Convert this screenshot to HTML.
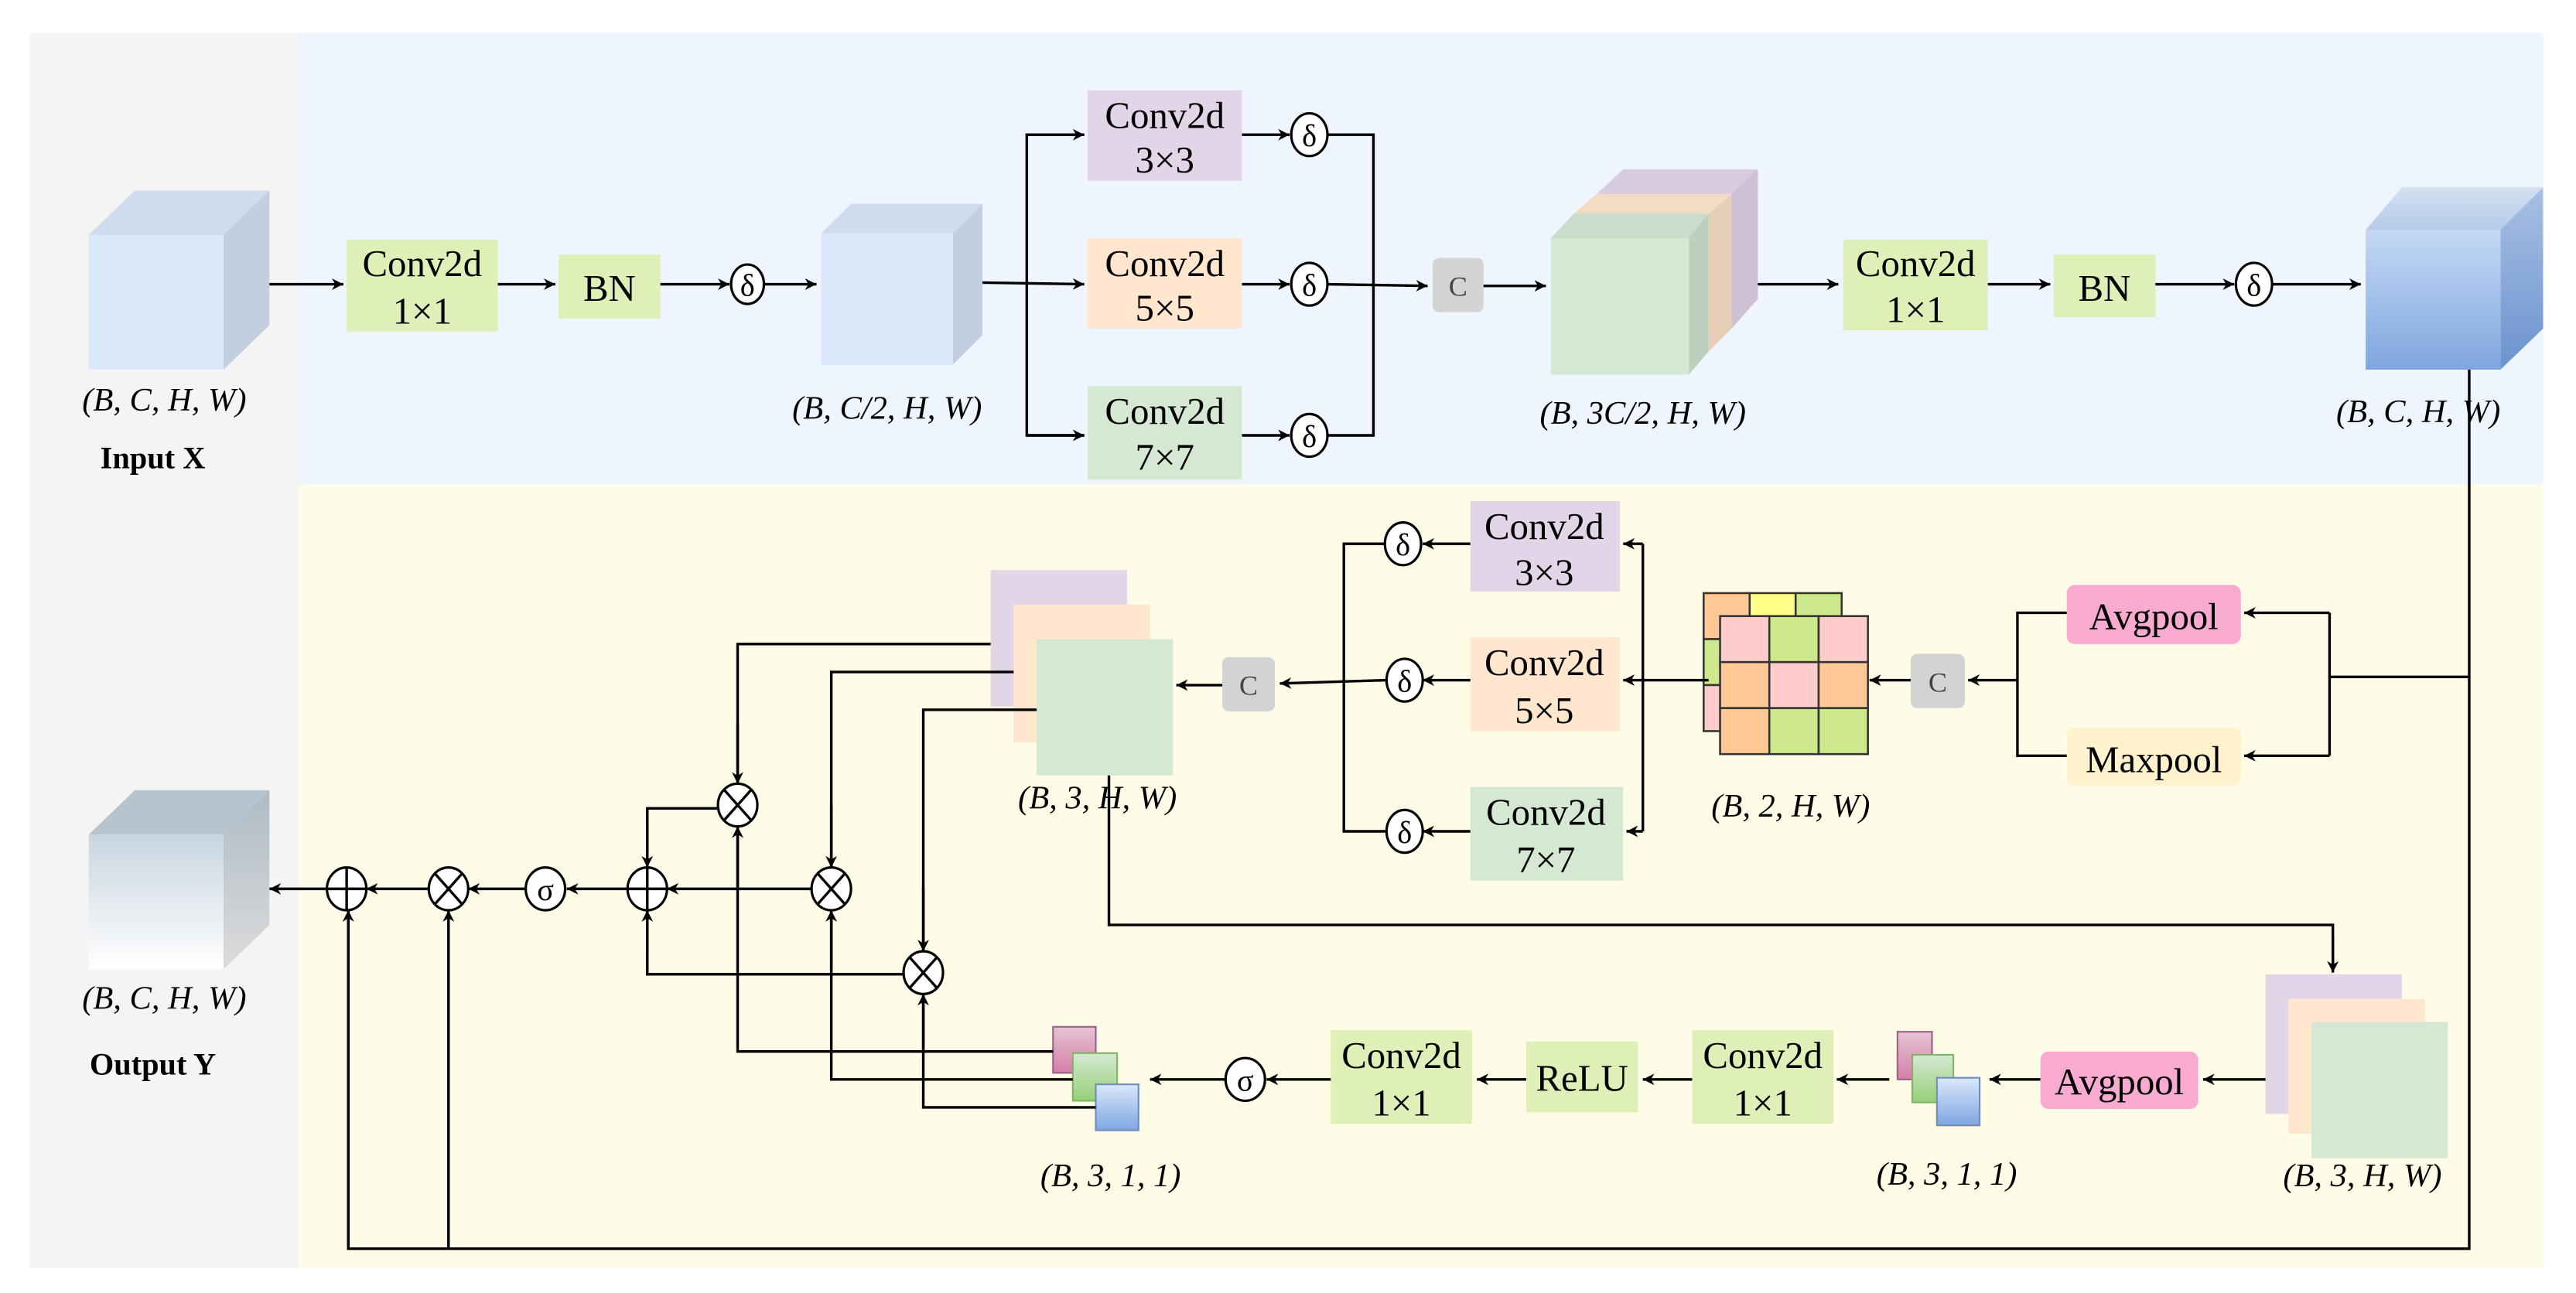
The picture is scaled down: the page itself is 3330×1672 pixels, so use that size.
<!DOCTYPE html>
<html><head><meta charset="utf-8"><style>
html,body{margin:0;padding:0;background:#fff;}
svg{display:block;}
svg text{font-family:"Liberation Serif","DejaVu Serif",serif;fill:#000;}
.b{font-size:23px;text-anchor:middle;}
.l{font-size:20px;text-anchor:middle;font-style:italic;}
.ln{stroke:#000;stroke-width:1.6;fill:none;}
</style></head><body>
<svg width="3330" height="1672" viewBox="0 0 1568 787" preserveAspectRatio="none" xmlns="http://www.w3.org/2000/svg" font-family="Liberation Serif, DejaVu Serif, serif">
<defs>
<marker id="a" viewBox="0 0 10 10" refX="10" refY="5" markerWidth="7" markerHeight="7" orient="auto-start-reverse" markerUnits="userSpaceOnUse"><path d="M0,0 L10,5 L0,10 L3,5 z" fill="#000"/></marker>
<linearGradient id="gb" x1="0" y1="0" x2="0" y2="1"><stop offset="0" stop-color="#c4d8f4"/><stop offset="1" stop-color="#7ea6de"/></linearGradient>
<linearGradient id="gbt" x1="0" y1="0" x2="0" y2="1"><stop offset="0" stop-color="#d3e0f0"/><stop offset="1" stop-color="#b5cbe9"/></linearGradient>
<linearGradient id="gbs" x1="0" y1="0" x2="0" y2="1"><stop offset="0" stop-color="#a8c0e4"/><stop offset="1" stop-color="#6b93cf"/></linearGradient>
<linearGradient id="gg" x1="0" y1="0" x2="0" y2="1"><stop offset="0" stop-color="#c8d5e0"/><stop offset="1" stop-color="#ffffff"/></linearGradient>
<linearGradient id="ggs" x1="0" y1="0" x2="0" y2="1"><stop offset="0" stop-color="#aebbc5"/><stop offset="1" stop-color="#dcdcdc"/></linearGradient>
<linearGradient id="sp" x1="0" y1="0" x2="0" y2="1"><stop offset="0" stop-color="#e6c4d4"/><stop offset="1" stop-color="#d47fa6"/></linearGradient>
<linearGradient id="sg" x1="0" y1="0" x2="0" y2="1"><stop offset="0" stop-color="#d5e8d4"/><stop offset="1" stop-color="#97d077"/></linearGradient>
<linearGradient id="sb" x1="0" y1="0" x2="0" y2="1"><stop offset="0" stop-color="#dae8fc"/><stop offset="1" stop-color="#7ea6e0"/></linearGradient>
</defs>
<rect width="1568" height="787" fill="#fff"/>
<rect x="18" y="20" width="164" height="752" fill="#f4f4f4"/>
<rect x="182" y="20" width="1366" height="275" fill="#eef5fe"/>
<rect x="182" y="295" width="1366" height="477" fill="#fefbe6"/>

<polygon points="54,143 82,116 164,116 136,143" fill="#cfdcee"/>
<polygon points="136,143 164,116 164,198 136,225" fill="#c3cfe1"/>
<rect x="54" y="143" width="82" height="82" fill="#dae8fa"/>
<text class="l" x="100" y="250">(B, C, H, W)</text>
<text x="93" y="285" style="font-size:19px;font-weight:bold;text-anchor:middle">Input X</text>

<line class="ln" x1="164" y1="173" x2="209" y2="173" marker-end="url(#a)"/>
<rect x="211" y="146" width="92" height="56" fill="#deefb7"/>
<text class="b" x="257" y="168">Conv2d</text><text class="b" x="257" y="197">1×1</text>
<line class="ln" x1="303" y1="173" x2="338" y2="173" marker-end="url(#a)"/>
<rect x="340" y="155" width="62" height="39" fill="#deefb7"/>
<text class="b" x="371" y="183">BN</text>
<line class="ln" x1="402" y1="173" x2="444" y2="173" marker-end="url(#a)"/>
<ellipse cx="455" cy="173" rx="10" ry="12" fill="#fff" stroke="#000" stroke-width="1.5"/><text class="b" x="455" y="180" style="font-size:19px">δ</text>
<line class="ln" x1="465" y1="173" x2="497" y2="173" marker-end="url(#a)"/>
<polygon points="500,142 518,124 598,124 580,142" fill="#cfdcee"/>
<polygon points="580,142 598,124 598,204 580,222" fill="#c3cfe1"/>
<rect x="500" y="142" width="80" height="80" fill="#dae8fa"/>
<text class="l" x="540" y="255">(B, C/2, H, W)</text>
<line class="ln" x1="598" y1="172" x2="660" y2="173" marker-end="url(#a)"/>
<polyline class="ln" points="660,82 625,82 625,265 660,265"/>
<line class="ln" x1="625" y1="82" x2="660" y2="82" marker-end="url(#a)"/>
<line class="ln" x1="625" y1="265" x2="660" y2="265" marker-end="url(#a)"/>
<rect x="662" y="55" width="94" height="55" fill="#e1d5e7"/><text class="b" x="709" y="78">Conv2d</text><text class="b" x="709" y="105">3×3</text>
<rect x="662" y="145" width="94" height="55" fill="#ffe6cc"/><text class="b" x="709" y="168">Conv2d</text><text class="b" x="709" y="195">5×5</text>
<rect x="662" y="235" width="94" height="57" fill="#d5e8d4"/><text class="b" x="709" y="258">Conv2d</text><text class="b" x="709" y="286">7×7</text>
<line class="ln" x1="756" y1="82" x2="785" y2="82" marker-end="url(#a)"/>
<line class="ln" x1="756" y1="173" x2="785" y2="173" marker-end="url(#a)"/>
<line class="ln" x1="756" y1="265" x2="785" y2="265" marker-end="url(#a)"/>
<ellipse cx="797" cy="82" rx="11" ry="13" fill="#fff" stroke="#000" stroke-width="1.5"/><text class="b" x="797" y="89" style="font-size:19px">δ</text>
<ellipse cx="797" cy="173" rx="11" ry="13" fill="#fff" stroke="#000" stroke-width="1.5"/><text class="b" x="797" y="180" style="font-size:19px">δ</text>
<ellipse cx="797" cy="265" rx="11" ry="13" fill="#fff" stroke="#000" stroke-width="1.5"/><text class="b" x="797" y="272" style="font-size:19px">δ</text>
<polyline class="ln" points="808,82 836,82 836,265 808,265"/>
<line class="ln" x1="808" y1="173" x2="869" y2="174" marker-end="url(#a)"/>
<rect x="872" y="157" width="31" height="33" rx="4" fill="#d3d3d3"/><text x="887.5" y="180" style="font-size:17px;text-anchor:middle;fill:#444">C</text>
<line class="ln" x1="903" y1="174" x2="941" y2="174" marker-end="url(#a)"/>
<polygon points="972,118 988,103 1070,103 1054,118" fill="#d8cbdd"/>
<polygon points="1054,118 1070,103 1070,182 1054,200" fill="#cdc0d3"/>
<polygon points="958,130 972,118 1054,118 1040,130" fill="#f2dcc4"/>
<polygon points="1040,130 1054,118 1054,200 1040,214" fill="#e6cfb6"/>
<polygon points="944,145 958,130 1040,130 1028,145" fill="#cadcca"/>
<polygon points="1028,145 1040,130 1040,214 1028,228" fill="#bdd0bd"/>
<rect x="944" y="145" width="84" height="83" fill="#d5e8d4"/>
<text class="l" x="1000" y="258">(B, 3C/2, H, W)</text>
<line class="ln" x1="1070" y1="173" x2="1119" y2="173" marker-end="url(#a)"/>
<rect x="1122" y="146" width="88" height="55" fill="#deefb7"/><text class="b" x="1166" y="168">Conv2d</text><text class="b" x="1166" y="196">1×1</text>
<line class="ln" x1="1210" y1="173" x2="1248" y2="173" marker-end="url(#a)"/>
<rect x="1250" y="155" width="62" height="38" fill="#deefb7"/><text class="b" x="1281" y="183">BN</text>
<line class="ln" x1="1312" y1="173" x2="1360" y2="173" marker-end="url(#a)"/>
<ellipse cx="1372" cy="173" rx="11" ry="13" fill="#fff" stroke="#000" stroke-width="1.5"/><text class="b" x="1372" y="180" style="font-size:19px">δ</text>
<line class="ln" x1="1383" y1="173" x2="1437" y2="173" marker-end="url(#a)"/>
<polygon points="1440,140 1462,114 1548,114 1522,140" fill="url(#gbt)"/>
<polygon points="1522,140 1548,114 1548,200 1522,225" fill="url(#gbs)"/>
<rect x="1440" y="140" width="82" height="85" fill="url(#gb)"/>
<text class="l" x="1472" y="257">(B, C, H, W)</text>

<polyline class="ln" points="1503,225 1503,760 212,760 212,554"/>
<line class="ln" x1="212" y1="760" x2="212" y2="554" marker-end="url(#a)"/>
<line class="ln" x1="273" y1="760" x2="273" y2="554" marker-end="url(#a)"/>
<line class="ln" x1="1503" y1="412" x2="1418" y2="412"/>
<polyline class="ln" points="1418,460 1418,373"/>
<line class="ln" x1="1418" y1="373" x2="1366" y2="373" marker-end="url(#a)"/>
<line class="ln" x1="1418" y1="460" x2="1366" y2="460" marker-end="url(#a)"/>
<rect x="1258" y="356" width="106" height="36" rx="5" fill="#f8aad0"/><text class="b" x="1311" y="383">Avgpool</text>
<rect x="1258" y="443" width="106" height="35" rx="5" fill="#fff2cc"/><text class="b" x="1311" y="470">Maxpool</text>
<polyline class="ln" points="1258,373 1228,373 1228,460 1258,460"/>
<line class="ln" x1="1228" y1="414" x2="1198" y2="414" marker-end="url(#a)"/>
<rect x="1163" y="398" width="33" height="33" rx="4" fill="#d3d3d3"/><text x="1179.5" y="421" style="font-size:17px;text-anchor:middle;fill:#444">C</text>
<line class="ln" x1="1163" y1="414" x2="1138" y2="414" marker-end="url(#a)"/>
<g stroke="#333" stroke-width="1.2">
<rect x="1037" y="361" width="28" height="28" fill="#ffc894"/><rect x="1065" y="361" width="28" height="28" fill="#ffff88"/><rect x="1093" y="361" width="28" height="28" fill="#cde98c"/>
<rect x="1037" y="389" width="28" height="28" fill="#cde98c"/><rect x="1037" y="417" width="28" height="28" fill="#ffcccc"/>
<rect x="1047" y="375" width="30" height="28" fill="#ffcccc"/><rect x="1077" y="375" width="30" height="28" fill="#cde98c"/><rect x="1107" y="375" width="30" height="28" fill="#ffcccc"/>
<rect x="1047" y="403" width="30" height="28" fill="#ffc894"/><rect x="1077" y="403" width="30" height="28" fill="#ffcccc"/><rect x="1107" y="403" width="30" height="28" fill="#ffc894"/>
<rect x="1047" y="431" width="30" height="28" fill="#ffc894"/><rect x="1077" y="431" width="30" height="28" fill="#cde98c"/><rect x="1107" y="431" width="30" height="28" fill="#cde98c"/>
</g>
<text class="l" x="1090" y="497">(B, 2, H, W)</text>
<line class="ln" x1="1040" y1="414" x2="1000" y2="414"/>
<polyline class="ln" points="1000,331 1000,506"/>
<line class="ln" x1="1000" y1="331" x2="988" y2="331" marker-end="url(#a)"/>
<line class="ln" x1="1000" y1="414" x2="988" y2="414" marker-end="url(#a)"/>
<line class="ln" x1="1000" y1="506" x2="990" y2="506" marker-end="url(#a)"/>
<rect x="895" y="305" width="91" height="55" fill="#e1d5e7"/><text class="b" x="940" y="328">Conv2d</text><text class="b" x="940" y="356">3×3</text>
<rect x="895" y="388" width="91" height="57" fill="#ffe6cc"/><text class="b" x="940" y="411">Conv2d</text><text class="b" x="940" y="440">5×5</text>
<rect x="895" y="479" width="93" height="57" fill="#d5e8d4"/><text class="b" x="941" y="502">Conv2d</text><text class="b" x="941" y="531">7×7</text>
<line class="ln" x1="895" y1="331" x2="866" y2="331" marker-end="url(#a)"/>
<line class="ln" x1="895" y1="414" x2="866" y2="414" marker-end="url(#a)"/>
<line class="ln" x1="895" y1="506" x2="866" y2="506" marker-end="url(#a)"/>
<ellipse cx="854" cy="331" rx="11" ry="13" fill="#fff" stroke="#000" stroke-width="1.5"/><text class="b" x="854" y="338" style="font-size:19px">δ</text>
<ellipse cx="855" cy="414" rx="11" ry="13" fill="#fff" stroke="#000" stroke-width="1.5"/><text class="b" x="855" y="421" style="font-size:19px">δ</text>
<ellipse cx="855" cy="506" rx="11" ry="13" fill="#fff" stroke="#000" stroke-width="1.5"/><text class="b" x="855" y="513" style="font-size:19px">δ</text>
<polyline class="ln" points="843,331 818,331 818,506 844,506"/>
<line class="ln" x1="844" y1="414" x2="779" y2="416" marker-end="url(#a)"/>
<rect x="744" y="400" width="32" height="33" rx="4" fill="#d3d3d3"/><text x="760" y="423" style="font-size:17px;text-anchor:middle;fill:#444">C</text>
<line class="ln" x1="744" y1="417" x2="716" y2="417" marker-end="url(#a)"/>
<rect x="603" y="347" width="83" height="83" fill="#e1d5e7"/>
<rect x="617" y="368" width="83" height="84" fill="#ffe6cc"/>
<rect x="631" y="389" width="83" height="83" fill="#d5e8d4"/>
<text class="l" x="668" y="492">(B, 3, H, W)</text>
<polyline class="ln" points="675,472 675,563 1420,563 1420,590"/>
<line class="ln" x1="1420" y1="570" x2="1420" y2="592" marker-end="url(#a)"/>
<rect x="1379" y="593" width="83" height="85" fill="#e1d5e7"/>
<rect x="1393" y="608" width="83" height="82" fill="#ffe6cc"/>
<rect x="1407" y="622" width="83" height="83" fill="#d5e8d4"/>
<text class="l" x="1438" y="722">(B, 3, H, W)</text>
<line class="ln" x1="1379" y1="657" x2="1341" y2="657" marker-end="url(#a)"/>
<rect x="1242" y="640" width="96" height="35" rx="5" fill="#f8aad0"/><text class="b" x="1290" y="666">Avgpool</text>
<line class="ln" x1="1242" y1="657" x2="1211" y2="657" marker-end="url(#a)"/>
<rect x="1155" y="628" width="21" height="29" fill="url(#sp)" stroke="#996185" stroke-width="1"/>
<rect x="1164" y="642" width="25" height="29" fill="url(#sg)" stroke="#82b366" stroke-width="1"/>
<rect x="1179" y="656" width="26" height="29" fill="url(#sb)" stroke="#6c8ebf" stroke-width="1"/>
<text class="l" x="1185" y="721">(B, 3, 1, 1)</text>
<line class="ln" x1="1150" y1="657" x2="1118" y2="657" marker-end="url(#a)"/>
<rect x="1030" y="627" width="86" height="57" fill="#deefb7"/><text class="b" x="1073" y="650">Conv2d</text><text class="b" x="1073" y="679">1×1</text>
<line class="ln" x1="1030" y1="657" x2="1000" y2="657" marker-end="url(#a)"/>
<rect x="929" y="634" width="68" height="43" fill="#deefb7"/><text class="b" x="963" y="664">ReLU</text>
<line class="ln" x1="929" y1="657" x2="899" y2="657" marker-end="url(#a)"/>
<rect x="810" y="627" width="86" height="57" fill="#deefb7"/><text class="b" x="853" y="650">Conv2d</text><text class="b" x="853" y="679">1×1</text>
<line class="ln" x1="810" y1="657" x2="771" y2="657" marker-end="url(#a)"/>
<ellipse cx="758" cy="657" rx="12" ry="13" fill="#fff" stroke="#000" stroke-width="1.5"/><text class="b" x="758" y="664" style="font-size:19px">σ</text>
<line class="ln" x1="746" y1="657" x2="700" y2="657" marker-end="url(#a)"/>
<rect x="641" y="625" width="26" height="28" fill="url(#sp)" stroke="#996185" stroke-width="1"/>
<rect x="653" y="641" width="27" height="29" fill="url(#sg)" stroke="#82b366" stroke-width="1"/>
<rect x="667" y="660" width="26" height="28" fill="url(#sb)" stroke="#6c8ebf" stroke-width="1"/>
<text class="l" x="676" y="722">(B, 3, 1, 1)</text>
<polyline class="ln" points="641,640 449,640 449,503"/>
<line class="ln" x1="449" y1="540" x2="449" y2="503" marker-end="url(#a)"/>
<polyline class="ln" points="653,657 506,657 506,554"/>
<line class="ln" x1="506" y1="590" x2="506" y2="554" marker-end="url(#a)"/>
<polyline class="ln" points="667,674 562,674 562,605"/>
<line class="ln" x1="562" y1="640" x2="562" y2="605" marker-end="url(#a)"/>
<polyline class="ln" points="603,392 449,392 449,477"/>
<line class="ln" x1="449" y1="440" x2="449" y2="477" marker-end="url(#a)"/>
<polyline class="ln" points="617,409 506,409 506,528"/>
<line class="ln" x1="506" y1="490" x2="506" y2="528" marker-end="url(#a)"/>
<polyline class="ln" points="631,432 562,432 562,579"/>
<line class="ln" x1="562" y1="540" x2="562" y2="579" marker-end="url(#a)"/>
<polyline class="ln" points="438,492 394,492 394,528"/>
<line class="ln" x1="394" y1="500" x2="394" y2="528" marker-end="url(#a)"/>
<polyline class="ln" points="551,593 394,593 394,554"/>
<line class="ln" x1="394" y1="580" x2="394" y2="554" marker-end="url(#a)"/>
<line class="ln" x1="494" y1="541" x2="406" y2="541" marker-end="url(#a)"/>
<line class="ln" x1="382" y1="541" x2="345" y2="541" marker-end="url(#a)"/>
<line class="ln" x1="320" y1="541" x2="285" y2="541" marker-end="url(#a)"/>
<line class="ln" x1="262" y1="541" x2="223" y2="541" marker-end="url(#a)"/>
<line class="ln" x1="200" y1="541" x2="164" y2="541" marker-end="url(#a)"/>
<g fill="#fff" stroke="#000" stroke-width="1.5">
<ellipse cx="449" cy="490" rx="12" ry="13"/><ellipse cx="506" cy="541" rx="12" ry="13"/><ellipse cx="562" cy="592" rx="12" ry="13"/>
<ellipse cx="394" cy="541" rx="12" ry="13"/><ellipse cx="332" cy="541" rx="12" ry="13"/><ellipse cx="273" cy="541" rx="12" ry="13"/><ellipse cx="211" cy="541" rx="12" ry="13"/>
</g>
<g class="ln" stroke-width="1.3">
<path d="M441,481 L457,499 M457,481 L441,499"/>
<path d="M498,532 L514,550 M514,532 L498,550"/>
<path d="M554,583 L570,601 M570,583 L554,601"/>
<path d="M265,532 L281,550 M281,532 L265,550"/>
<path d="M382,541 L406,541 M394,528 L394,554"/>
<path d="M199,541 L223,541 M211,528 L211,554"/>
</g>
<text class="b" x="332" y="548" style="font-size:19px">σ</text>
<polygon points="54,508 82,481 164,481 136,508" fill="#b7c4ce"/>
<polygon points="136,508 164,481 164,563 136,590" fill="url(#ggs)"/>
<rect x="54" y="508" width="82" height="82" fill="url(#gg)"/>
<text class="l" x="100" y="614">(B, C, H, W)</text>
<text x="93" y="654" style="font-size:19px;font-weight:bold;text-anchor:middle">Output Y</text>
</svg>
</body></html>
